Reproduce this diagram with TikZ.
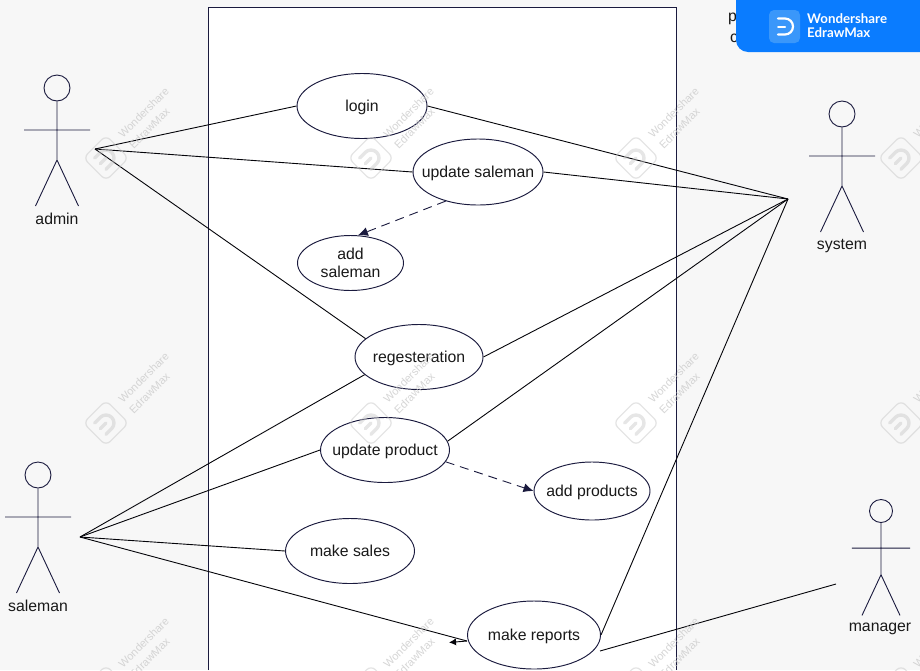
\documentclass[tikz,border=0pt]{standalone}
\usepackage{fontspec}
\setmainfont{Liberation Sans}
\newfontfamily\brandfont{Lato}
\usetikzlibrary{arrows.meta,shapes.geometric}
\definecolor{ink}{HTML}{1A1A3E}
\definecolor{wm}{HTML}{C8C8C8}
\definecolor{bannerblue}{HTML}{0A7CFF}
\definecolor{logoblue}{HTML}{3A97FA}
\newcommand{\lbl}[1]{\makebox[0pt]{\raisebox{-5.5pt}[0pt][0pt]{#1}}}
\tikzset{
  x=1pt,y=-1pt,
  case/.style={draw=ink,fill=white,ellipse,line width=0.95pt,minimum width=#1,inner sep=0pt,font=\fontsize{15.8}{19}\selectfont,text=black!90},
  limb/.style={draw=ink,line width=0.9pt},
  link/.style={draw=black!85!ink,line width=0.9pt},
  dep/.style={draw=ink,line width=0.9pt,dash pattern=on 9pt off 6pt,-{Latex[length=10pt,width=9pt]}},
  actorlabel/.style={font=\fontsize{15.8}{19}\selectfont,text=black!90},
  wmtext/.style={font=\fontsize{11}{15}\selectfont,text=wm,rotate=45,align=left,opacity=0.75},
  wmbox/.style={draw=wm,opacity=0.5,line width=1.2pt,rounded corners=6pt,rotate=45,minimum size=32pt,inner sep=0pt}
}
\newcommand{\wmark}[3]{%
  \node[wmbox] (box#3) at (#1,#2) {};
  \begin{scope}[shift={(#1,#2)},rotate=45,opacity=0.45]
    \draw[wm,line width=3.4pt,line cap=round] (-8,-8) -- (0,-8) arc[start angle=90,end angle=-90,radius=8pt] -- (-8,8);
    \draw[wm,line width=3.4pt,line cap=round] (-8,0) -- (0,0);
  \end{scope}
  \node[wmtext] (txt#3) at (#1+43,#2-40) {Wondershare\\EdrawMax};
}
\newcommand{\actor}[4]{% name, head x, head y, scale
  \node[draw=ink,fill=none,circle,minimum size=26pt*#4,inner sep=0pt,line width=0.9pt] (#1h) at (#2,#3) {};
  \coordinate (#1w) at (#2,#3+72*#4);
  \coordinate (#1l) at (#2-33*#4,#3+42*#4);
  \coordinate (#1r) at (#2+33*#4,#3+42*#4);
  \coordinate (#1a) at (#2-21.5*#4,#3+118*#4);
  \coordinate (#1b) at (#2+21.5*#4,#3+118*#4);
  \draw[limb] (#1h.south) -- (#1w) (#1l) -- (#1r) (#1a) -- (#1w) -- (#1b);
}
\begin{document}
\begin{tikzpicture}
\useasboundingbox (0,0) rectangle (920,670);
\fill[black!3] (0,0) rectangle (920,670);
\fill[white] (208.5,7.5) rectangle (676,670);
\draw[ink,line width=0.9pt] (208.5,670) -- (208.5,7.5) -- (676,7.5) -- (676,670);
\node[font=\fontsize{15.8}{19}\selectfont,text=black!90,anchor=west,inner sep=0pt] (ptxt) at (728,19) {p};
\node[font=\fontsize{15.8}{19}\selectfont,text=black!90,anchor=west,inner sep=0pt] (ctxt) at (730,38) {c};
\coordinate (adminp) at (95,149);
\coordinate (salep) at (80,537);
\coordinate (sysp) at (788,199);
\coordinate (mgrp) at (836,584);
\coordinate (repp) at (600,651);
\coordinate (repin) at (467,641);
\node[case=130pt,minimum height=65pt] (login) at (362,106) {\lbl{login}};
\node[case=130pt,minimum height=66pt] (upds) at (478,172) {\lbl{update saleman}};
\node[case=106pt,minimum height=55pt] (adds) at (350.5,263) {\lbl{\begin{tabular}{@{}c@{}}add\\[-0.5pt]saleman\end{tabular}}};
\node[case=128pt,minimum height=65pt] (reg) at (419,357) {\lbl{regesteration}};
\node[case=129pt,minimum height=65pt] (updp) at (385,450) {\lbl{update product}};
\node[case=116pt,minimum height=58pt] (addp) at (592,491) {\lbl{add products}};
\node[case=129pt,minimum height=65pt] (sales) at (350,551) {\lbl{make sales}};
\node[case=133pt,minimum height=68pt] (rep) at (534,635) {\lbl{make reports}};
\actor{ad}{57}{88}{1}
\actor{sy}{842}{114}{1}
\actor{sa}{38}{475}{1}
\actor{mg}{881}{511}{0.885}
\node[actorlabel] (adl) at (57,219) {admin};
\node[actorlabel] (syl) at (842,246) {system};
\node[actorlabel] (sal) at (38,606) {saleman};
\node[actorlabel] (mgl) at (880,629) {manager};
\draw[link] (adminp) -- (login.west);
\draw[link] (adminp) -- (upds.west);
\draw[link] (adminp) -- (reg.161);
\draw[link] (login.east) -- (sysp);
\draw[link] (upds.east) -- (sysp);
\draw[link] (reg.east) -- (sysp);
\draw[link] (updp.8) -- (sysp);
\draw[link] (rep.east) -- (sysp);
\draw[link] (salep) -- (reg.198);
\draw[link] (salep) -- (updp.west);
\draw[link] (salep) -- (sales.west);
\draw[link] (salep) -- (repin);
\draw[link,-{Latex[length=7pt,width=7pt]}] (repin) -- ++(-18,1.5);
\draw[link] (repp) -- (mgrp);
\draw[dep] (upds.222) -- (adds.75);
\draw[dep] (updp.-11) -- (addp.west);
\foreach \c/\xx/\yy in {a/106/158,b/371/158,c/636/158,d/901/158,e/106/423,f/371/423,g/636/423,h/901/423,i/106/688,j/371/688,k/636/688,l/901/688}{\wmark{\xx}{\yy}{\c}}
% banner
\fill[bannerblue,rounded corners=12pt] (736,-20) rectangle (950,52);
\fill[logoblue,rounded corners=5pt] (769,10) rectangle (800,43);
\draw[white,line width=2pt,line cap=round] (778,26.5) -- (785,26.5);
\draw[white,line width=2.2pt,line cap=round] (778,18.5) -- (785,18.5) arc[start angle=90,end angle=-90,radius=8pt] -- (778,34.5);
\node[font=\brandfont\bfseries\fontsize{13.3}{14}\selectfont,text=white,anchor=west,align=left,inner sep=0pt] (brand) at (807,26) {Wondershare\\EdrawMax};
\end{tikzpicture}
\end{document}
